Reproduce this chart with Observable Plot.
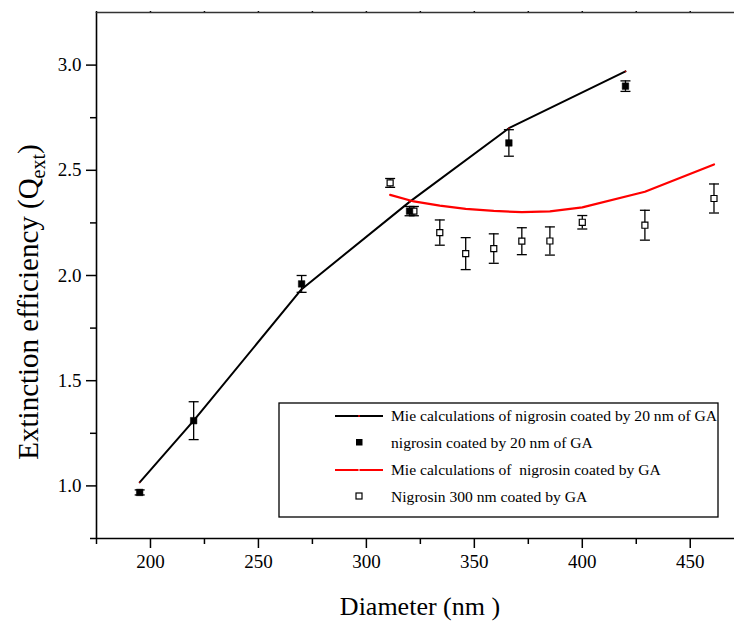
<!DOCTYPE html>
<html>
<head>
<meta charset="utf-8">
<script src="https://cdn.jsdelivr.net/npm/d3@7"></script>
<script src="https://cdn.jsdelivr.net/npm/@observablehq/plot@0.6"></script>
<style>
  html, body { margin: 0; padding: 0; background: #fff; }
  #chart { width: 734px; height: 624px; }
  #chart svg text { font-family: 'Liberation Serif', 'Times New Roman', serif !important; }
</style>
</head>
<body>
<div id="chart"></div>
<script>
// ---- data ----
// Mie calculations of nigrosin coated by 20 nm of GA (black line)
const mie20X = [195, 220, 270, 320, 366, 420];
const mie20Y = [1.017, 1.31, 1.935, 2.35, 2.70, 2.97];
// nigrosin coated by 20 nm of GA (filled squares)
const coat20X = [195, 220, 270, 320, 366, 420];
const coat20Y = [0.969, 1.31, 1.96, 2.306, 2.63, 2.90];
const coat20Err = [0.012, 0.09, 0.04, 0.022, 0.063, 0.025];
// Mie calculations of nigrosin coated by GA (red line)
const mieGAX = [311, 322, 334, 346, 359, 372, 385, 400, 429, 461];
const mieGAY = [2.383, 2.352, 2.332, 2.317, 2.307, 2.301, 2.305, 2.324, 2.398, 2.528];
// Nigrosin 300 nm coated by GA (open squares)
const nigX = [311, 322, 334, 346, 359, 372, 385, 400, 429, 461];
const nigY = [2.44, 2.306, 2.204, 2.104, 2.128, 2.163, 2.164, 2.253, 2.239, 2.366];
const nigErr = [0.021, 0.022, 0.06, 0.076, 0.07, 0.064, 0.067, 0.032, 0.071, 0.069];

const xMajor = [200, 250, 300, 350, 400, 450];
const xMinor = [175, 225, 275, 325, 375, 425];
const xTop = [175, 200, 225, 250, 275, 300, 325, 350, 375, 400, 425, 450];
const yMajor = [1.0, 1.5, 2.0, 2.5, 3.0];
const yMinor = [0.75, 1.25, 1.75, 2.25, 2.75];
const xDomain = [175, 470.5];
const yDomain = [0.75, 3.25];

const legendLabels = [
  "Mie calculations of nigrosin coated by 20 nm of GA",
  "nigrosin coated by 20 nm of GA",
  "Mie calculations of  nigrosin coated by GA",
  "Nigrosin 300 nm coated by GA"
];

// ---- tables ----
const mie20 = mie20X.map((x, i) => ({x, y: mie20Y[i]}));
const coat20 = coat20X.map((x, i) => ({x, y: coat20Y[i], lo: coat20Y[i] - coat20Err[i], hi: coat20Y[i] + coat20Err[i]}));
const mieGA = mieGAX.map((x, i) => ({x, y: mieGAY[i]}));
const nig = nigX.map((x, i) => ({x, y: nigY[i], lo: nigY[i] - nigErr[i], hi: nigY[i] + nigErr[i]}));

const cap = {
  draw(context, size) {
    const w = 5;
    context.moveTo(-w, 0);
    context.lineTo(w, 0);
  }
};

const errMarks = (data) => [
  Plot.ruleX(data, {x: "x", y1: "lo", y2: "hi", stroke: "black", strokeWidth: 1.3}),
  Plot.dot(data, {x: "x", y: "lo", symbol: cap, r: 4, stroke: "black", strokeWidth: 1.3, fill: "none"}),
  Plot.dot(data, {x: "x", y: "hi", symbol: cap, r: 4, stroke: "black", strokeWidth: 1.3, fill: "none"})
];

const chart = Plot.plot({
  width: 734,
  height: 624,
  marginLeft: 96,
  marginRight: 0,
  marginTop: 12,
  marginBottom: 86,
  x: {domain: xDomain},
  y: {domain: yDomain},
  style: {fontFamily: "'Liberation Serif', 'Times New Roman', serif", background: "white", color: "black"},
  marks: [
    Plot.axisX({ticks: xMajor, tickSize: 10, tickPadding: 6, fontSize: 19, strokeWidth: 1.5, label: null, tickFormat: d => String(d)}),
    Plot.axisX({ticks: xMinor, tickSize: 6, strokeWidth: 1.5, label: null, tickFormat: () => ""}),
    Plot.axisX({anchor: "top", ticks: xTop, tickSize: 2, strokeWidth: 1.5, label: null, tickFormat: () => ""}),
    Plot.axisY({ticks: yMajor, tickSize: 10, tickPadding: 5, fontSize: 19, strokeWidth: 1.5, label: null, tickFormat: d3.format(".1f")}),
    Plot.axisY({ticks: yMinor, tickSize: 6, strokeWidth: 1.5, label: null, tickFormat: () => ""}),
    Plot.ruleX([xDomain[0]], {stroke: "black", strokeWidth: 1.6}),
    Plot.ruleY([yDomain[0]], {stroke: "black", strokeWidth: 1.6}),
    Plot.ruleY([yDomain[1]], {stroke: "#333", strokeWidth: 1.6}),
    Plot.line(mie20, {x: "x", y: "y", stroke: "black", strokeWidth: 2}),
    Plot.dot(mie20, {x: "x", y: "y", r: 0.8, fill: "#c00000"}),
    Plot.line(mieGA, {x: "x", y: "y", stroke: "#ff0000", strokeWidth: 2.2}),
    ...errMarks(coat20),
    ...errMarks(nig),
    Plot.dot(nig, {x: "x", y: "y", symbol: "square", r: 3.4, fill: "white", stroke: "black", strokeWidth: 1.2}),
    Plot.dot(coat20, {x: "x", y: "y", symbol: "square", r: 3.7, fill: "black", stroke: "black", strokeWidth: 0.5})
  ]
});

document.getElementById("chart").appendChild(chart);

// ---- enlarge Plot's tick labels ----
const svg = d3.select(chart);
svg.selectAll("text").each(function () {
  const t = this.textContent.trim();
  if (t !== "") {
    d3.select(this).style("font-size", "19px");
    d3.select(this.parentNode).attr("font-size", 19);
  }
});

// ---- axis titles & legend ----
const serif = "'Liberation Serif', 'Times New Roman', serif";

const yl = svg.append("text")
  .attr("transform", "translate(38,302) rotate(-90)")
  .attr("text-anchor", "middle")
  .attr("font-family", serif)
  .style("font-size", "29px")
  .attr("fill", "black");
yl.append("tspan").text("Extinction efficiency (Q");
yl.append("tspan").style("font-size", "20px").attr("dy", 7).text("ext");
yl.append("tspan").attr("dy", -7).text(")");

svg.append("text")
  .attr("x", 420).attr("y", 615)
  .attr("text-anchor", "middle")
  .attr("font-family", serif)
  .style("font-size", "26px")
  .attr("fill", "black")
  .text("Diameter (nm )");

const lg = svg.append("g").attr("text-anchor", "start");
lg.append("rect").attr("x", 279).attr("y", 403).attr("width", 439).attr("height", 114)
  .attr("fill", "white").attr("stroke", "black").attr("stroke-width", 1.3);
const rowsY = [416, 443, 470, 497];
// row 1: black line with red dot
lg.append("line").attr("x1", 335).attr("x2", 383).attr("y1", rowsY[0]).attr("y2", rowsY[0]).attr("stroke", "black").attr("stroke-width", 2);
lg.append("circle").attr("cx", 359).attr("cy", rowsY[0]).attr("r", 1).attr("fill", "#e00000");
// row 2: filled square
lg.append("rect").attr("x", 356).attr("y", rowsY[1] - 4).attr("width", 6.5).attr("height", 6.5).attr("fill", "black");
// row 3: red line
lg.append("line").attr("x1", 335).attr("x2", 383).attr("y1", rowsY[2]).attr("y2", rowsY[2]).attr("stroke", "#ff0000").attr("stroke-width", 2.2);
lg.append("circle").attr("cx", 359).attr("cy", rowsY[2]).attr("r", 0.9).attr("fill", "#ffb0b0");
// row 4: open square
lg.append("rect").attr("x", 356).attr("y", rowsY[3] - 4).attr("width", 6).attr("height", 6).attr("fill", "white").attr("stroke", "black").attr("stroke-width", 1.2);
legendLabels.forEach((t, i) => {
  lg.append("text").attr("x", 391).attr("y", rowsY[i]).attr("dy", "0.35em")
    .attr("text-anchor", "start")
    .attr("font-family", serif).style("font-size", "15.6px").attr("fill", "black")
    .style("white-space", "pre")
    .text(t);
});
</script>
</body>
</html>
